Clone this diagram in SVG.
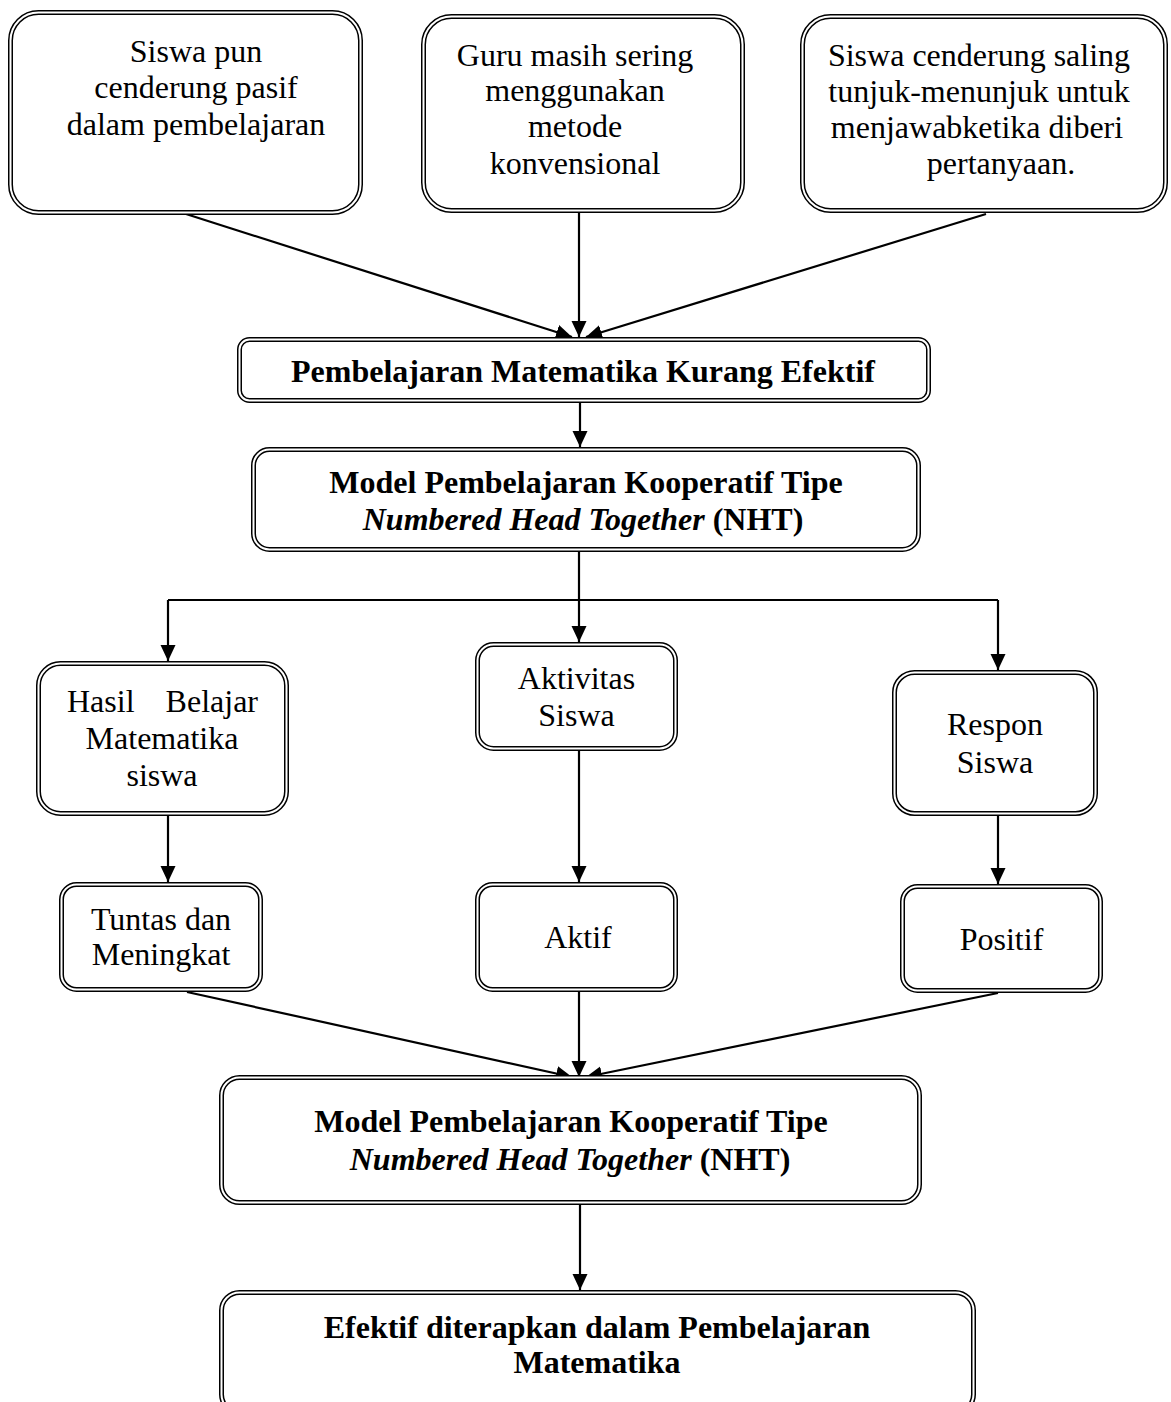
<svg xmlns="http://www.w3.org/2000/svg" width="1171" height="1402" viewBox="0 0 1171 1402">
  <style>
    .frame { fill: #ffffff; stroke: #000000; stroke-width: 5; }
    .gap { fill: none; stroke: #ffffff; stroke-width: 2; }
    .t { font-family: 'Liberation Serif', Tinos, 'Times New Roman', Times, serif; font-size: 32px; fill: #000000; text-anchor: middle; }
    .s { text-anchor: start; }
    .e { text-anchor: end; }
    .b { font-weight: bold; }
    .i { font-style: italic; }
    .edge { fill: none; stroke: #000000; stroke-width: 2.2; }
  </style>
  <defs>
    <marker id="arrow" markerUnits="userSpaceOnUse" markerWidth="18" markerHeight="16" refX="16" refY="7.5" orient="auto">
      <path d="M0,0 L16,7.5 L0,15 z" fill="#000000"/>
    </marker>
  </defs>
  <rect width="1171" height="1402" fill="#ffffff"/>

  <g id="connectors">
    <line class="edge" x1="186" y1="214" x2="572" y2="337" marker-end="url(#arrow)"/>
    <line class="edge" x1="579" y1="213" x2="579" y2="337" marker-end="url(#arrow)"/>
    <line class="edge" x1="986" y1="214" x2="586" y2="337" marker-end="url(#arrow)"/>
    <line class="edge" x1="580" y1="403" x2="580" y2="447" marker-end="url(#arrow)"/>
    <path class="edge" d="M579,552 V600 M168,600 H998"/>
    <line class="edge" x1="168" y1="600" x2="168" y2="661" marker-end="url(#arrow)"/>
    <line class="edge" x1="579" y1="600" x2="579" y2="642" marker-end="url(#arrow)"/>
    <line class="edge" x1="998" y1="600" x2="998" y2="670" marker-end="url(#arrow)"/>
    <line class="edge" x1="168" y1="816" x2="168" y2="882" marker-end="url(#arrow)"/>
    <line class="edge" x1="579" y1="751" x2="579" y2="882" marker-end="url(#arrow)"/>
    <line class="edge" x1="998" y1="816" x2="998" y2="884" marker-end="url(#arrow)"/>
    <line class="edge" x1="187" y1="992" x2="572" y2="1077" marker-end="url(#arrow)"/>
    <line class="edge" x1="579" y1="992" x2="579" y2="1077" marker-end="url(#arrow)"/>
    <line class="edge" x1="998" y1="993" x2="586" y2="1077" marker-end="url(#arrow)"/>
    <line class="edge" x1="580" y1="1205" x2="580" y2="1290" marker-end="url(#arrow)"/>
  </g>

  <g id="siswa-pasif">
    <rect class="frame" x="10.5" y="12.5" width="350" height="200" rx="28"/>
    <rect class="gap" x="10.5" y="12.5" width="350" height="200" rx="28"/>
    <text class="t" x="196" y="62">Siswa pun</text>
    <text class="t" x="196" y="98">cenderung pasif</text>
    <text class="t" x="196" y="135">dalam pembelajaran</text>
  </g>

  <g id="guru-konvensional">
    <rect class="frame" x="423.5" y="16.5" width="319" height="194" rx="28"/>
    <rect class="gap" x="423.5" y="16.5" width="319" height="194" rx="28"/>
    <text class="t" x="575" y="66">Guru masih sering</text>
    <text class="t" x="575" y="101">menggunakan</text>
    <text class="t" x="575" y="137">metode</text>
    <text class="t" x="575" y="174">konvensional</text>
  </g>

  <g id="siswa-tunjuk">
    <rect class="frame" x="802.5" y="16.5" width="363" height="194" rx="28"/>
    <rect class="gap" x="802.5" y="16.5" width="363" height="194" rx="28"/>
    <text class="t" x="979" y="66">Siswa cenderung saling</text>
    <text class="t" x="979" y="102">tunjuk-menunjuk untuk</text>
    <text class="t" x="977" y="138">menjawabketika diberi</text>
    <text class="t" x="1001" y="174">pertanyaan.</text>
  </g>

  <g id="kurang-efektif">
    <rect class="frame" x="239.5" y="339.5" width="689" height="61" rx="10"/>
    <rect class="gap" x="239.5" y="339.5" width="689" height="61" rx="10"/>
    <text class="t b" x="583" y="382">Pembelajaran Matematika Kurang Efektif</text>
  </g>

  <g id="model-nht">
    <rect class="frame" x="253.5" y="449.5" width="665" height="100" rx="16"/>
    <rect class="gap" x="253.5" y="449.5" width="665" height="100" rx="16"/>
    <text class="t b" x="586" y="493">Model Pembelajaran Kooperatif Tipe</text>
    <text class="t b" x="583" y="530"><tspan class="i">Numbered Head Together</tspan> (NHT)</text>
  </g>

  <g id="hasil-belajar">
    <rect class="frame" x="38.5" y="663.5" width="248" height="150" rx="22"/>
    <rect class="gap" x="38.5" y="663.5" width="248" height="150" rx="22"/>
    <text class="t s" x="67" y="712">Hasil</text>
    <text class="t e" x="258" y="712">Belajar</text>
    <text class="t" x="162" y="749">Matematika</text>
    <text class="t" x="162" y="786">siswa</text>
  </g>

  <g id="aktivitas-siswa">
    <rect class="frame" x="477.5" y="644.5" width="198" height="104" rx="16"/>
    <rect class="gap" x="477.5" y="644.5" width="198" height="104" rx="16"/>
    <text class="t" x="576.5" y="689">Aktivitas</text>
    <text class="t" x="576.5" y="726">Siswa</text>
  </g>

  <g id="respon-siswa">
    <rect class="frame" x="894.5" y="672.5" width="201" height="141" rx="20"/>
    <rect class="gap" x="894.5" y="672.5" width="201" height="141" rx="20"/>
    <text class="t" x="995" y="735">Respon</text>
    <text class="t" x="995" y="773">Siswa</text>
  </g>

  <g id="tuntas">
    <rect class="frame" x="61.5" y="884.5" width="199" height="105" rx="15"/>
    <rect class="gap" x="61.5" y="884.5" width="199" height="105" rx="15"/>
    <text class="t" x="161" y="930">Tuntas dan</text>
    <text class="t" x="161" y="965">Meningkat</text>
  </g>

  <g id="aktif">
    <rect class="frame" x="477.5" y="884.5" width="198" height="105" rx="15"/>
    <rect class="gap" x="477.5" y="884.5" width="198" height="105" rx="15"/>
    <text class="t" x="578" y="948">Aktif</text>
  </g>

  <g id="positif">
    <rect class="frame" x="902.5" y="886.5" width="198" height="104" rx="15"/>
    <rect class="gap" x="902.5" y="886.5" width="198" height="104" rx="15"/>
    <text class="t" x="1001.5" y="950">Positif</text>
  </g>

  <g id="model-nht-hasil">
    <rect class="frame" x="221.5" y="1077.5" width="698" height="125" rx="18"/>
    <rect class="gap" x="221.5" y="1077.5" width="698" height="125" rx="18"/>
    <text class="t b" x="571" y="1132">Model Pembelajaran Kooperatif Tipe</text>
    <text class="t b" x="570" y="1170"><tspan class="i">Numbered Head Together</tspan> (NHT)</text>
  </g>

  <g id="efektif">
    <rect class="frame" x="221.5" y="1292.5" width="752" height="120" rx="18"/>
    <rect class="gap" x="221.5" y="1292.5" width="752" height="120" rx="18"/>
    <text class="t b" x="597" y="1338">Efektif diterapkan dalam Pembelajaran</text>
    <text class="t b" x="597" y="1373">Matematika</text>
  </g>
</svg>
